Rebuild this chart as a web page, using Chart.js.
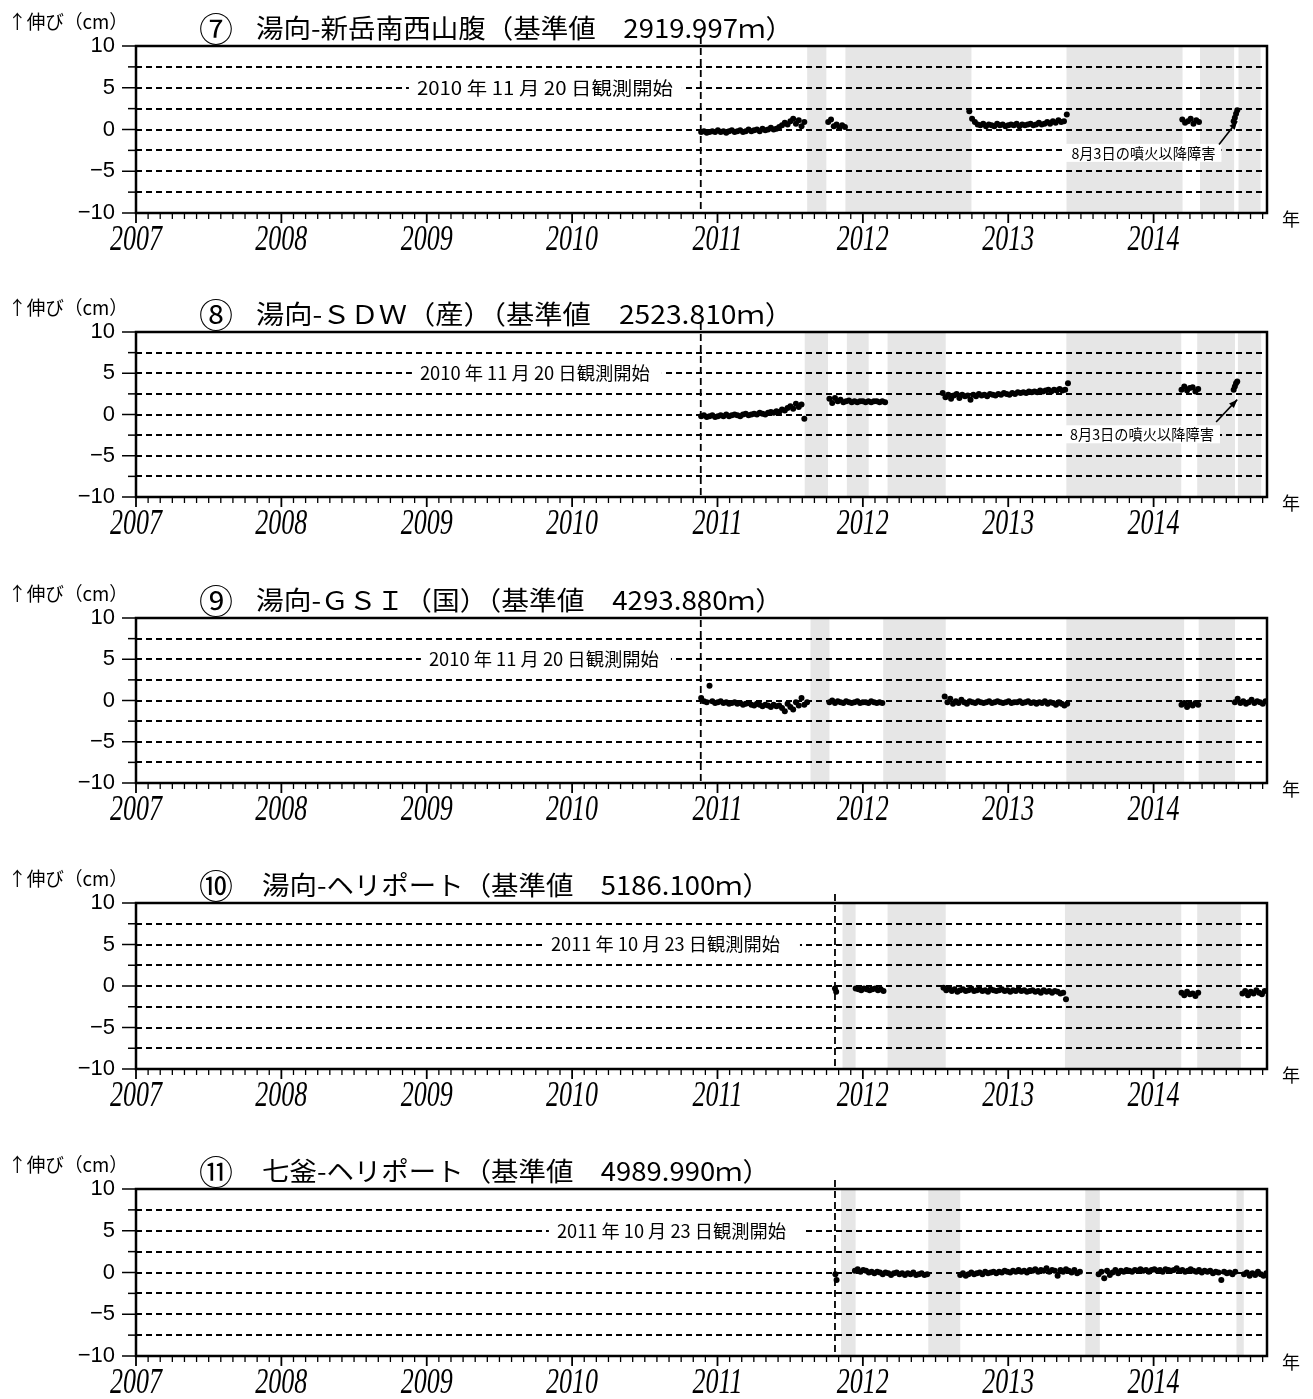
<!DOCTYPE html>
<html lang="ja">
<head>
<meta charset="utf-8">
<title>基線長変化</title>
<script src="https://cdn.jsdelivr.net/npm/chart.js@4.4.1/dist/chart.umd.min.js"></script>
<style>
  html, body { margin: 0; padding: 0; background: #fff; }
  body { width: 1313px; height: 1399px; position: relative; overflow: hidden; }
  canvas { position: absolute; left: 0; }
</style>
</head>
<body>
<canvas id="c7" width="1313" height="256"></canvas>
<canvas id="c8" width="1313" height="256"></canvas>
<canvas id="c9" width="1313" height="256"></canvas>
<canvas id="c10" width="1313" height="256"></canvas>
<canvas id="c11" width="1313" height="256"></canvas>
<script>
// ---- axis range and labels ----
const xMin = 2007;
const xMax = 2014.78;
const yearLabels = ['2007', '2008', '2009', '2010', '2011', '2012', '2013', '2014'];

// ---- observation start dates ----
const start7 = '2010-11-20';
const start8 = '2010-11-20';
const start9 = '2010-11-20';
const start10 = '2011-10-23';
const start11 = '2011-10-23';

// ---- missing-data periods (decimal year) ----
const gaps7 = [[2011.617, 2011.749], [2011.880, 2012.747], [2013.401, 2014.199], [2014.319, 2014.554], [2014.584, 2014.736]];
const gaps8 = [[2011.600, 2011.760], [2011.890, 2012.040], [2012.170, 2012.570], [2013.400, 2014.190], [2014.300, 2014.560], [2014.580, 2014.740]];
const gaps9 = [[2011.640, 2011.770], [2012.140, 2012.570], [2013.400, 2014.210], [2014.310, 2014.560]];
const gaps10 = [[2011.860, 2011.950], [2012.170, 2012.570], [2013.390, 2014.190], [2014.300, 2014.600]];
const gaps11 = [[2011.850, 2011.950], [2012.450, 2012.670], [2013.530, 2013.630], [2014.570, 2014.620]];

// ---- baseline change readings (cm): [first date, values, days between readings] ----
const p7a = ['2010-11-21', [-0.3,-0.2,-0.4,-0.3,-0.2,-0.3,-0.1,-0.3,-0.2,-0.4,-0.2,-0.1,-0.3,-0.2,-0.1,-0.3,-0.2,0.0,-0.2,-0.1,0.0,-0.2,0.1,-0.1,0.0,0.2,0.0,0.1,0.3,0.5,0.8,0.6,1.0,1.3,0.7,1.1,0.4,0.9], 7];
const p7b = ['2011-10-06', [0.9,1.2,0.4,0.6,0.2,0.5,0.3], 7];
const p7c = ['2012-09-25', [2.2,1.3,0.9,0.6,0.5,0.7,0.4,0.6,0.5,0.4,0.7,0.5,0.6,0.4,0.5,0.6,0.5,0.7,0.4,0.6,0.5,0.6,0.7,0.5,0.6,0.8,0.6,0.7,0.9,0.7,1.0,0.8,1.1,0.9,1.0,1.8], 7];
const p7d = ['2014-03-14', [1.2,0.8,1.0,1.3,0.7,1.1,0.9], 7];
const p7e = ['2014-07-21', [1.0,1.4,1.9,2.3], 3];

const p8a = ['2010-11-21', [-0.2,-0.1,-0.3,-0.2,-0.1,-0.3,-0.2,-0.1,-0.2,0.0,-0.2,-0.1,0.0,-0.1,-0.2,0.0,0.1,-0.1,0.0,0.1,0.0,0.2,0.1,0.0,0.2,0.3,0.2,0.4,0.3,0.6,0.5,0.8,1.0,0.7,1.3,0.9,1.2,-0.5], 7];
const p8b = ['2011-10-09', [1.9,1.4,2.0,1.6,1.8,1.5,1.6,1.7,1.5,1.6,1.5,1.6,1.6,1.5,1.6,1.5,1.6,1.6,1.5,1.6,1.5], 7];
const p8c = ['2012-07-20', [2.6,2.1,2.4,1.9,2.3,2.5,2.0,2.4,2.2,2.3,1.8,2.4,2.2,2.5,2.3,2.4,2.2,2.5,2.4,2.3,2.5,2.4,2.6,2.5,2.4,2.6,2.5,2.7,2.6,2.7,2.6,2.8,2.7,2.8,2.7,2.9,2.8,2.9,3.0,2.8,3.0,2.9,3.1,2.9,3.0,3.8], 7];
const p8d = ['2014-03-12', [3.0,3.4,2.9,3.2,3.3,2.8,3.1], 7];
const p8e = ['2014-07-21', [3.0,3.4,3.8,4.0], 3];

const p9a = ['2010-11-21', [0.3,-0.1,-0.2,1.8,-0.1,-0.3,-0.2,-0.1,-0.3,-0.2,-0.4,-0.3,-0.2,-0.4,-0.3,-0.5,-0.4,-0.3,-0.5,-0.6,-0.4,-0.5,-0.7,-0.5,-0.6,-0.8,-0.5,-0.7,-0.6,-0.9,-1.3,-0.4,-0.8,-1.1,-0.2,-0.6,0.3,-0.5,-0.2], 7];
const p9b = ['2011-10-09', [-0.2,0.0,-0.3,-0.1,-0.2,-0.3,-0.1,-0.2,-0.3,-0.2,-0.1,-0.3,-0.2,-0.2,-0.3,-0.1,-0.2,-0.3,-0.2,-0.3], 7];
const p9c = ['2012-07-25', [0.5,-0.2,0.2,-0.4,-0.1,-0.3,0.1,-0.2,-0.4,-0.1,-0.2,-0.3,-0.1,-0.2,-0.3,-0.2,-0.1,-0.3,-0.2,-0.1,-0.2,-0.3,-0.2,-0.1,-0.3,-0.2,-0.2,-0.1,-0.3,-0.2,-0.1,-0.3,-0.2,-0.4,-0.2,-0.3,-0.1,-0.4,-0.2,-0.3,-0.5,-0.2,-0.4,-0.6,-0.4], 7];
const p9d = ['2014-03-12', [-0.5,-0.3,-0.8,-0.4,-0.6,-0.3,-0.5], 7];
const p9e = ['2014-07-24', [-0.2,0.2,-0.3,-0.1,-0.4,-0.2,0.1,-0.3,-0.1,-0.2,-0.4,-0.1], 7];

const p10a = ['2011-10-23', [-0.3,-0.7], 3];
const p10b = ['2011-12-14', [-0.3,-0.4,-0.5,-0.3,-0.4,-0.5,-0.4,-0.3,-0.5,-0.4,-0.6], 7];
const p10c = ['2012-07-22', [-0.2,-0.5,-0.3,-0.6,-0.4,-0.7,-0.5,-0.4,-0.6,-0.5,-0.3,-0.6,-0.5,-0.4,-0.6,-0.5,-0.7,-0.4,-0.5,-0.6,-0.5,-0.4,-0.6,-0.5,-0.7,-0.5,-0.6,-0.4,-0.6,-0.5,-0.7,-0.6,-0.5,-0.7,-0.6,-0.8,-0.5,-0.7,-0.6,-0.8,-0.6,-0.7,-0.9,-0.8,-1.6], 7];
const p10d = ['2014-03-12', [-0.8,-1.1,-0.7,-1.0,-0.9,-1.2,-0.8], 7];
const p10e = ['2014-08-12', [-0.9,-0.6,-1.1,-0.7,-0.9,-0.5,-0.8,-1.0,-0.6], 7];

const p11a = ['2011-10-24', [-0.2,-0.9], 3];
const p11b = ['2011-12-12', [0.2,0.4,0.1,0.3,0.2,0.0,0.1,-0.1,0.1,0.0,-0.2,0.0,-0.1,-0.3,-0.1,0.0,-0.2,-0.1,-0.3,-0.1,-0.2,0.0,-0.3,-0.2,-0.1,-0.3,-0.2], 7];
const p11c = ['2012-09-02', [-0.3,-0.1,-0.4,-0.2,0.0,-0.2,-0.1,0.0,-0.2,0.1,-0.1,0.0,0.1,-0.1,0.1,0.0,0.2,0.1,0.0,0.2,0.1,0.3,0.1,0.2,0.0,0.3,0.2,0.4,0.1,0.3,0.2,0.5,0.1,0.3,0.2,-0.4,0.3,0.1,0.4,0.2,0.0,0.3,-0.1,0.1], 7];
const p11d = ['2013-08-16', [-0.2,0.1,-0.7,0.2,-0.3,0.0,0.3,-0.1,0.2,0.1,0.3,0.2,0.1,0.3,0.2,0.4,0.2,0.3,0.1,0.3,0.4,0.2,0.3,0.1,0.4,0.3,0.2,0.3,0.5,0.2,0.3,0.1,0.2,0.4,0.2,0.1,0.3,0.0,0.2,0.1,0.2,-0.1,0.1,0.0,-0.9,0.1,-0.1,0.0,-0.2,0.1], 7];
const p11e = ['2014-08-16', [-0.2,0.0,-0.4,-0.1,-0.3,0.1,-0.2,-0.4,-0.1], 7];

// ---- text ----
const marks = ['⑦', '⑧', '⑨', '⑩', '⑪'];
const titles = [
  '湯向-新岳南西山腹（基準値　2919.997ｍ）',
  '湯向-ＳＤＷ（産）（基準値　2523.810ｍ）',
  '湯向-ＧＳＩ（国）（基準値　4293.880ｍ）',
  '湯向-ヘリポート（基準値　5186.100ｍ）',
  '七釜-ヘリポート（基準値　4989.990ｍ）'
];
const startLabels = [
  '2010 年 11 月 20 日観測開始',
  '2010 年 11 月 20 日観測開始',
  '2010 年 11 月 20 日観測開始',
  '2011 年 10 月 23 日観測開始',
  '2011 年 10 月 23 日観測開始'
];
const noteText = '8月3日の噴火以降障害';
const yHeader = '↑伸び（cm）';
const xUnit = '年';

// ---- layout ----
const CANVAS_H = 256, PAD_TOP = 46, PLOT_LEFT = 136, PAD_RIGHT = 46;
const CJK = '"Noto Sans CJK JP", "Noto Sans CJK SC", sans-serif';

function dateMs(s) { return Date.parse(s + 'T00:00:00Z'); }
function toDecYear(ms) {
  const y = new Date(ms).getUTCFullYear();
  const a = Date.UTC(y, 0, 1), b = Date.UTC(y + 1, 0, 1);
  return y + (ms - a) / (b - a);
}
function runPoints(run) {
  const [first, vals, step] = run;
  const t0 = dateMs(first);
  return vals.map((v, i) => ({ x: toDecYear(t0 + i * step * 864e5), y: v }));
}
// draws text squeezed/stretched horizontally to span x0..x1
function fitText(ctx, text, x0, x1, yc) {
  ctx.save();
  ctx.textAlign = 'left';
  ctx.textBaseline = 'middle';
  const w = ctx.measureText(text).width;
  ctx.translate(x0, yc);
  ctx.scale((x1 - x0) / w, 1);
  ctx.fillText(text, 0, 0);
  ctx.restore();
}
function arrow(ctx, x0, y0, x1, y1) {
  const ang = Math.atan2(y1 - y0, x1 - x0), hl = 9, hw = 0.38;
  ctx.beginPath(); ctx.moveTo(x0, y0); ctx.lineTo(x1, y1); ctx.stroke();
  ctx.beginPath();
  ctx.moveTo(x1, y1);
  ctx.lineTo(x1 - hl * Math.cos(ang - hw), y1 - hl * Math.sin(ang - hw));
  ctx.lineTo(x1 - hl * Math.cos(ang + hw), y1 - hl * Math.sin(ang + hw));
  ctx.closePath(); ctx.fill();
}

const panels = [
  { id: 'c7', top: 0, h: 167, runs: [p7a, p7b, p7c, p7d, p7e], gaps: gaps7, start: start7,
    labelAt: 2009.813, labelW: 256, labelPadR: 9, titleX: [256, 793],
    note: { at: [2013.93, -2.8], from: [2014.45, -1.8], to: [2014.575, 1.0] } },
  { id: 'c8', top: 286, h: 165, runs: [p8a, p8b, p8c, p8d, p8e], gaps: gaps8, start: start8,
    labelAt: 2009.744, labelW: 230, labelPadR: 12, titleX: [256, 793],
    note: { at: [2013.92, -2.4], from: [2014.43, -0.9], to: [2014.575, 1.8] } },
  { id: 'c9', top: 572, h: 165, runs: [p9a, p9b, p9c, p9d, p9e], gaps: gaps9, start: start9,
    labelAt: 2009.806, labelW: 230, labelPadR: 12, titleX: [256, 783], note: null },
  { id: 'c10', top: 857, h: 166, runs: [p10a, p10b, p10c, p10d, p10e], gaps: gaps10, start: start10,
    labelAt: 2010.642, labelW: 229, labelPadR: 20, titleX: [262, 770], note: null },
  { id: 'c11', top: 1143, h: 167, runs: [p11a, p11b, p11c, p11d, p11e], gaps: gaps11, start: start11,
    labelAt: 2010.683, labelW: 229, labelPadR: 20, titleX: [262, 770], note: null }
];

function buildPanel(p, idx) {
  const canvas = document.getElementById(p.id);
  canvas.style.top = p.top + 'px';
  const points = p.runs.flatMap(runPoints);
  const startX = toDecYear(dateMs(p.start));

  const deco = {
    id: 'deco_' + p.id,
    beforeDraw(chart) {
      const { ctx, chartArea: a, scales: { x } } = chart;
      ctx.save();
      ctx.fillStyle = '#fff';
      ctx.fillRect(0, 0, chart.width, chart.height);
      ctx.fillStyle = '#e6e6e6';
      p.gaps.forEach(([g0, g1]) => {
        const p0 = x.getPixelForValue(g0), p1 = x.getPixelForValue(g1);
        ctx.fillRect(p0, a.top, p1 - p0, a.bottom - a.top);
      });
      ctx.restore();
    },
    beforeDatasetsDraw(chart) {
      const { ctx, chartArea: a, scales: { x, y } } = chart;
      ctx.save();
      // observation start
      const sx = x.getPixelForValue(startX);
      ctx.strokeStyle = '#000';
      ctx.lineWidth = 1.8;
      ctx.setLineDash([7, 4]);
      ctx.beginPath(); ctx.moveTo(sx, a.top - 9); ctx.lineTo(sx, a.bottom); ctx.stroke();
      ctx.setLineDash([]);
      const ly = y.getPixelForValue(5);
      const cx = x.getPixelForValue(p.labelAt);
      ctx.fillStyle = '#fff';
      ctx.fillRect(cx - p.labelW / 2 - 8, ly - 9, p.labelW + 8 + p.labelPadR, 18);
      ctx.fillStyle = '#000';
      ctx.font = '18px ' + CJK;
      fitText(ctx, startLabels[idx], cx - p.labelW / 2, cx + p.labelW / 2, ly);
      ctx.restore();
    },
    afterDatasetsDraw(chart) {
      if (!p.note) return;
      const { ctx, scales: { x, y } } = chart;
      ctx.save();
      const bx = x.getPixelForValue(p.note.at[0]), by = y.getPixelForValue(p.note.at[1]);
      ctx.fillStyle = '#fff';
      ctx.fillRect(bx - 78, by - 9, 156, 18);
      ctx.fillStyle = '#000';
      ctx.font = '15px ' + CJK;
      fitText(ctx, noteText, bx - 72, bx + 72, by);
      ctx.strokeStyle = '#000';
      ctx.lineWidth = 1.6;
      arrow(ctx, x.getPixelForValue(p.note.from[0]), y.getPixelForValue(p.note.from[1]),
                 x.getPixelForValue(p.note.to[0]), y.getPixelForValue(p.note.to[1]));
      ctx.restore();
    },
    afterDraw(chart) {
      const { ctx, chartArea: a, scales: { x, y } } = chart;
      ctx.save();
      ctx.strokeStyle = '#000';
      ctx.fillStyle = '#000';
      // frame
      ctx.lineWidth = 2.5;
      ctx.strokeRect(a.left, a.top, a.right - a.left, a.bottom - a.top);
      // monthly / yearly ticks
      for (let m = Math.ceil(xMin * 12); m <= Math.floor(xMax * 12 + 1e-9); m++) {
        const px = x.getPixelForValue(m / 12);
        const yr = m % 12 === 0;
        ctx.lineWidth = yr ? 1.8 : 1.3;
        ctx.beginPath(); ctx.moveTo(px, a.bottom); ctx.lineTo(px, a.bottom + (yr ? 10 : 6)); ctx.stroke();
      }
      // y ticks
      y.ticks.forEach(t => {
        const py = y.getPixelForValue(t.value);
        const major = Math.abs(t.value % 5) < 1e-9;
        ctx.lineWidth = 1.5;
        ctx.beginPath(); ctx.moveTo(a.left, py); ctx.lineTo(a.left - (major ? 14 : 8), py); ctx.stroke();
      });
      // year labels
      ctx.font = 'italic 26px "Liberation Serif", "DejaVu Serif", serif';
      ctx.textAlign = 'center';
      ctx.textBaseline = 'middle';
      yearLabels.forEach(lbl => {
        const px = x.getPixelForValue(Number(lbl));
        ctx.save();
        ctx.translate(px, a.bottom + 28);
        ctx.scale(1, 1.35);
        ctx.fillText(lbl, 0, 0);
        ctx.restore();
      });
      // unit
      ctx.font = '18px ' + CJK;
      ctx.textAlign = 'left';
      ctx.fillText(xUnit, a.right + 15, a.bottom + 6);
      // y header
      ctx.font = '19px ' + CJK;
      fitText(ctx, yHeader, 8, 128, a.top - 24);
      // title
      ctx.font = '34px ' + CJK;
      ctx.textAlign = 'center';
      ctx.fillText(marks[idx], 216, a.top - 17);
      ctx.font = '26px ' + CJK;
      fitText(ctx, titles[idx], p.titleX[0], p.titleX[1], a.top - 18);
      ctx.restore();
    }
  };

  return new Chart(canvas, {
    type: 'scatter',
    data: {
      datasets: [{
        data: points,
        pointRadius: 3,
        pointHoverRadius: 3,
        pointBackgroundColor: '#000',
        pointBorderWidth: 0,
        borderWidth: 0
      }]
    },
    options: {
      responsive: false,
      animation: false,
      devicePixelRatio: 1,
      events: [],
      layout: { padding: { top: PAD_TOP, right: PAD_RIGHT, left: 0, bottom: 0 } },
      plugins: { legend: { display: false }, tooltip: { enabled: false } },
      scales: {
        x: {
          type: 'linear', min: xMin, max: xMax,
          grid: { display: false },
          border: { display: false },
          ticks: { display: false },
          afterFit(s) { s.height = CANVAS_H - PAD_TOP - p.h; }
        },
        y: {
          min: -10, max: 10,
          grid: { color: '#000', lineWidth: 2, drawTicks: false },
          border: { display: false, dash: [6, 4] },
          ticks: {
            stepSize: 2.5,
            autoSkip: false,
            padding: 21,
            color: '#000',
            font: { family: '"Liberation Sans", Arial, sans-serif', size: 22 },
            callback: v => (Math.abs(v % 5) < 1e-9 ? (v < 0 ? '\u2212' + Math.abs(v) : String(v)) : '')
          },
          afterFit(s) { s.width = PLOT_LEFT; }
        }
      }
    },
    plugins: [deco]
  });
}

panels.forEach(buildPanel);
</script>
</body>
</html>
